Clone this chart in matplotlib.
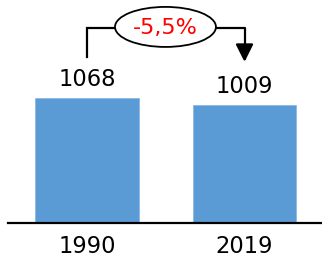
import matplotlib.pyplot as plt
from matplotlib.patches import Ellipse
import numpy as np

plt.rcParams['font.family'] = ['DejaVu Sans']

# data
years = ['1990', '2019']
values = [1068, 1009]
change_label = '-5,5%'

fig = plt.figure(figsize=(3.22, 2.58), dpi=100)
ax = fig.add_axes([8 / 322, 35 / 258, 314 / 322, 223 / 258])

x = np.arange(len(years))
ax.bar(x, values, width=0.66, color='#5B9BD5', edgecolor='#8DB8E2', linewidth=0.6)

for xi, v in zip(x, values):
    ax.annotate(str(v), (xi, v), xytext=(0, 8.6), textcoords='offset points',
                ha='center', va='baseline', fontsize=16.3)

ax.set_xlim(-0.502, 1.492)
ax.set_ylim(0, 1905)
ax.set_xticks(x)
ax.set_xticklabels(years, fontsize=16.3)
ax.tick_params(axis='x', length=0, pad=8.5)
ax.set_yticks([])
for s in ['top', 'left', 'right']:
    ax.spines[s].set_visible(False)
ax.spines['bottom'].set_linewidth(1.6)

# change bracket with arrow
vmax = max(values)
top = vmax + 598
ax.plot([0, 0, 0.2], [vmax + 353, top, top], color='black', lw=1.6,
        solid_joinstyle='miter', clip_on=False)
ax.annotate('', xy=(1, vmax + 308), xytext=(0.8, top),
            arrowprops=dict(arrowstyle='-|>,head_length=1.08,head_width=0.54',
                            connectionstyle='angle,angleA=0,angleB=90,rad=0',
                            color='black', lw=1.6, shrinkA=0, shrinkB=0))
ax.add_patch(Ellipse((0.498, vmax + 607), 0.641, 342, facecolor='white',
                     edgecolor='black', lw=1.3, clip_on=False, zorder=3))
ax.text(0.498, vmax + 598, change_label, color='#FF0000', fontsize=16,
        ha='center', va='center', zorder=4)

fig.savefig('out.png', dpi=100)
